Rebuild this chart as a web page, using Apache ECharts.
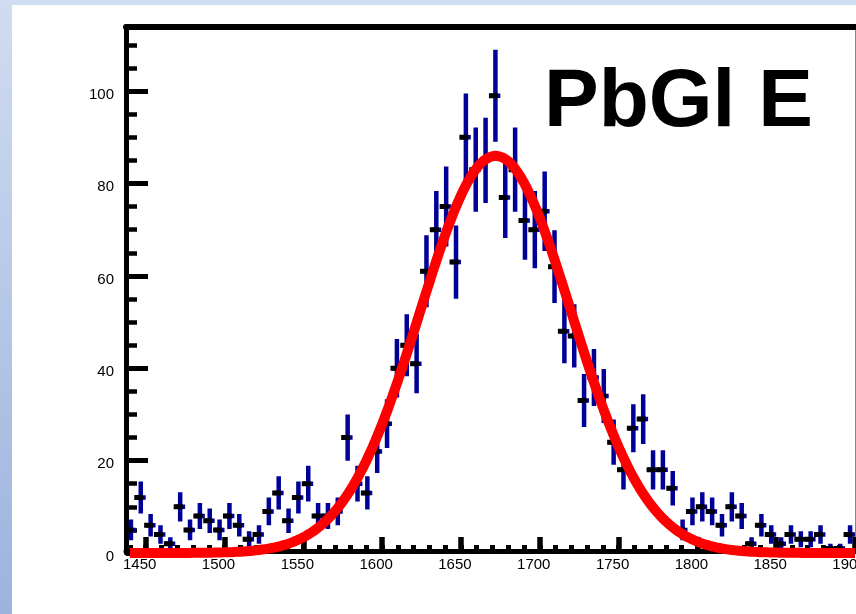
<!DOCTYPE html>
<html>
<head>
<meta charset="utf-8">
<script src="https://cdn.jsdelivr.net/npm/echarts@6/dist/echarts.min.js"></script>
<style>
html,body{margin:0;padding:0;background:#fff;}
#chart{width:856px;height:614px;}
</style>
</head>
<body>
<div id="chart"></div>
<script>
// ---- data ----
const binWidth = 6.25;
const binCenters = [
  1440.625, 1446.875, 1453.125, 1459.375, 1465.625, 1471.875, 1478.125, 1484.375, 1490.625, 1496.875,
  1503.125, 1509.375, 1515.625, 1521.875, 1528.125, 1534.375, 1540.625, 1546.875, 1553.125, 1559.375,
  1565.625, 1571.875, 1578.125, 1584.375, 1590.625, 1596.875, 1603.125, 1609.375, 1615.625, 1621.875,
  1628.125, 1634.375, 1640.625, 1646.875, 1653.125, 1659.375, 1665.625, 1671.875, 1678.125, 1684.375,
  1690.625, 1696.875, 1703.125, 1709.375, 1715.625, 1721.875, 1728.125, 1734.375, 1740.625, 1746.875,
  1753.125, 1759.375, 1765.625, 1771.875, 1778.125, 1784.375, 1790.625, 1796.875, 1803.125, 1809.375,
  1815.625, 1821.875, 1828.125, 1834.375, 1840.625, 1846.875, 1853.125, 1859.375, 1865.625, 1871.875,
  1878.125, 1884.375, 1890.625, 1896.875
];
const counts = [
  5, 12, 6, 4, 2, 10, 5, 8, 7, 5,
  8, 6, 3, 4, 9, 13, 7, 12, 15, 8,
  8, 9, 25, 15, 13, 22, 28, 40, 45, 41,
  61, 70, 75, 63, 90, 83, 85, 99, 77, 83,
  72, 70, 74, 62, 48, 47, 33, 38, 34, 24,
  18, 27, 29, 18, 18, 14, 5, 9, 10, 9,
  6, 10, 8, 2, 6, 4, 2, 4, 3, 3,
  4, 1, 1, 4
];
// Gaussian fit parameters
const fitAmplitude = 86;
const fitMean = 1672;
const fitSigma = 48;
const fitRange = [1440, 1900];

const xMajorTicks = [1450, 1500, 1550, 1600, 1650, 1700, 1750, 1800, 1850, 1900];
const yMajorTicks = [0, 20, 40, 60, 80, 100];
const xMinorTicks = [];
for (let v = 1440; v <= 1900; v += 10) xMinorTicks.push(v);
const yMinorTicks = [];
for (let v = 5; v <= 110; v += 5) yMinorTicks.push(v);

const title = 'PbGl E';

// ---- build ----
const histData = binCenters.map((x, i) => [x, counts[i]]);
const fitData = [];
for (let x = fitRange[0]; x <= fitRange[1]; x += 2) {
  fitData.push([x, fitAmplitude * Math.exp(-0.5 * Math.pow((x - fitMean) / fitSigma, 2))]);
}

const FONT = '"Liberation Sans", Arial, Helvetica, sans-serif';
const chart = echarts.init(document.getElementById('chart'), null, {renderer: 'canvas'});

const option = {
  backgroundColor: '#ffffff',
  animation: false,
  grid: {left: 126, right: 1, top: 26.5, bottom: 61, containLabel: false, outerBoundsMode: 'none'},
  xAxis: [
    {
      type: 'value', min: 1437.5, max: 1900, position: 'bottom', offset: -2,
      axisLine: {show: true, onZero: false, lineStyle: {color: '#000', width: 5}},
      axisTick: {show: true, inside: true, length: 14, customValues: xMajorTicks, lineStyle: {color: '#000', width: 5.5}},
      axisLabel: {
        show: true, customValues: xMajorTicks, margin: 6, color: '#000', fontSize: 15, fontFamily: FONT,
        formatter: function (v) { return '{a|' + String(v) + '}'; },
        rich: {a: {fontSize: 15, fontFamily: FONT, color: '#000', padding: [0, 12, 0, 0]}}
      },
      splitLine: {show: false}
    },
    {
      type: 'value', min: 1437.5, max: 1900, position: 'bottom', offset: -2,
      axisLine: {show: false},
      axisTick: {show: true, inside: true, length: 6, customValues: xMinorTicks, lineStyle: {color: '#000', width: 5}},
      axisLabel: {show: false},
      splitLine: {show: false}
    },
    {
      type: 'value', min: 1437.5, max: 1900, position: 'top',
      axisLine: {show: true, onZero: false, lineStyle: {color: '#000', width: 6}},
      axisTick: {show: false}, axisLabel: {show: false}, splitLine: {show: false}
    }
  ],
  yAxis: [
    {
      type: 'value', min: 0, max: 114, position: 'left',
      axisLine: {show: true, onZero: false, lineStyle: {color: '#000', width: 5}},
      axisTick: {show: true, inside: true, length: 22, customValues: yMajorTicks, lineStyle: {color: '#000', width: 5}},
      axisLabel: {
        show: true, customValues: yMajorTicks, margin: 12, color: '#000', fontSize: 15, fontFamily: FONT,
        formatter: function (v) { return '{a|' + String(v) + '}'; },
        rich: {a: {fontSize: 15, fontFamily: FONT, color: '#000', padding: [7, 0, 0, 0]}}
      },
      splitLine: {show: false}
    },
    {
      type: 'value', min: 0, max: 114, position: 'left',
      axisLine: {show: false},
      axisTick: {show: true, inside: true, length: 11, customValues: yMinorTicks, lineStyle: {color: '#000', width: 4.5}},
      axisLabel: {show: false}, splitLine: {show: false}
    },
    {
      type: 'value', min: 0, max: 114, position: 'right',
      axisLine: {show: true, onZero: false, lineStyle: {color: '#888', width: 1}},
      axisTick: {show: false}, axisLabel: {show: false}, splitLine: {show: false}
    }
  ],
  series: [
    {
      type: 'custom',
      name: 'data',
      xAxisIndex: 0, yAxisIndex: 0,
      clip: true,
      z: 3,
      data: histData,
      renderItem: function (params, api) {
        const x = api.value(0), y = api.value(1);
        const err = Math.sqrt(y);
        const c = api.coord([x, y]);
        const top = api.coord([x, y + err]);
        const bot = api.coord([x, Math.max(0, y - err)]);
        const hw = api.size([binWidth, 0])[0] / 2;
        return {
          type: 'group',
          children: [
            {type: 'line', shape: {x1: c[0], y1: top[1], x2: c[0], y2: bot[1]}, style: {stroke: '#000099', lineWidth: 4.5}},
            {type: 'line', shape: {x1: c[0] - hw, y1: c[1], x2: c[0] + hw, y2: c[1]}, style: {stroke: '#000099', lineWidth: 4.5}},
            {type: 'rect', shape: {x: c[0] - 6.5, y: c[1] - 2.5, width: 9, height: 5}, style: {fill: '#000'}}
          ]
        };
      }
    },
    {
      type: 'line',
      name: 'fit',
      xAxisIndex: 0, yAxisIndex: 0,
      data: fitData,
      showSymbol: false,
      symbol: 'none',
      clip: true,
      z: 5,
      lineStyle: {color: '#ff0000', width: 10, cap: 'butt', join: 'round'}
    }
  ],
  graphic: [
    {
      type: 'rect', z: -10, silent: true,
      shape: {x: 0, y: 0, width: 12, height: 614},
      style: {fill: new echarts.graphic.LinearGradient(0, 0, 0, 1, [
        {offset: 0, color: '#d0dcf0'}, {offset: 1, color: '#9cb3de'}
      ])}
    },
    {
      type: 'rect', z: -10, silent: true,
      shape: {x: 0, y: 0, width: 856, height: 5},
      style: {fill: '#d0dcf0'}
    },
    {
      type: 'text', z: 10, silent: true,
      x: 544, y: 103,
      style: {text: title, font: 'bold 82px ' + FONT, fill: '#000', textAlign: 'left', textVerticalAlign: 'middle'}
    }
  ]
};
chart.setOption(option);
</script>
</body>
</html>
